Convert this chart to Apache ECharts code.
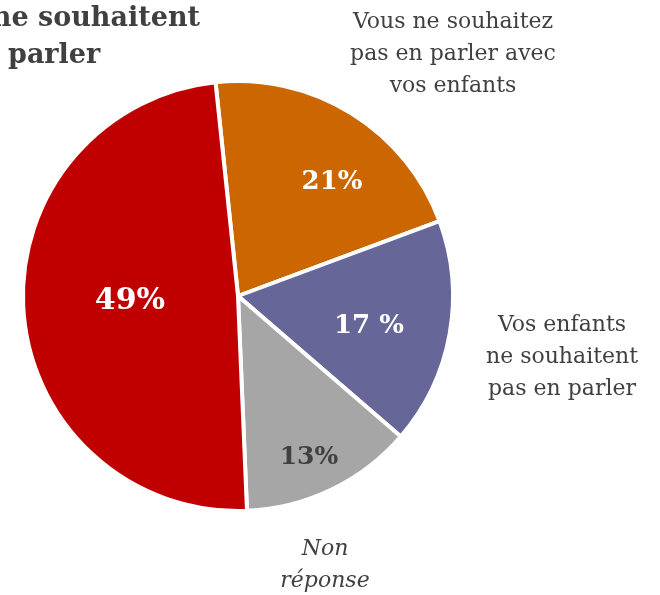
<!DOCTYPE html>
<html>
<head>
<meta charset="utf-8">
<script src="https://cdn.jsdelivr.net/npm/echarts@6/dist/echarts.min.js"></script>
<style>
  html, body { margin: 0; padding: 0; background: #fff; }
  #chart { width: 660px; height: 595px; }
</style>
</head>
<body>
<div id="chart"></div>
<script>
// data
var categories = [
  'Vous ne souhaitez\npas en parler avec\nvos enfants',
  'Vos enfants\nne souhaitent\npas en parler',
  'Non\nréponse',
  'ne souhaitent parler'
]
var values = [21, 17, 13, 49]
var pctLabels = ['21%', '17 %', '13%', '49%']
var colors = ['#CC6600', '#666699', '#A6A6A6', '#C00000']

// where the labels sit on the page
var pctPos = [[332, 182], [369, 326], [309, 457], [130, 301]]
var pctSize = [26, 26, 25, 30]
var namePos = [[453, 54], [562, 357], [325, 565], null]

var chart = echarts.init(document.getElementById('chart'))

var pieData = values.map(function (v, i) {
  return {
    name: categories[i], value: v,
    itemStyle: { color: colors[i] },
    label: { fontSize: pctSize[i], color: i === 2 ? '#404040' : '#fff' }
  }
})

chart.setOption({
  animation: false,
  backgroundColor: '#fff',
  graphic: [
    {
      type: 'text', right: 460, top: 5,
      style: { text: 'ne souhaitent', fill: '#404040', font: 'bold 27px "DejaVu Serif"' }
    },
    {
      type: 'text', left: 8, top: 42,
      style: { text: 'parler', fill: '#404040', font: 'bold 27px "DejaVu Serif"' }
    }
  ],
  series: [
    {
      type: 'pie',
      center: [238, 296],
      radius: 215,
      startAngle: 96,
      clockwise: true,
      data: pieData,
      itemStyle: { borderColor: '#fff', borderWidth: 4 },
      label: {
        show: true,
        position: 'inside',
        fontFamily: 'DejaVu Serif',
        fontWeight: 'bold',
        formatter: function (p) { return pctLabels[p.dataIndex] }
      },
      labelLayout: function (p) {
        var pos = pctPos[p.dataIndex]
        return { x: pos[0], y: pos[1], align: 'center', verticalAlign: 'middle' }
      },
      emphasis: { disabled: true }
    },
    {
      type: 'pie',
      center: [238, 296],
      radius: 215,
      startAngle: 96,
      clockwise: true,
      silent: true,
      data: values.map(function (v, i) {
        return {
          name: categories[i], value: v,
          itemStyle: { color: 'rgba(0,0,0,0)' },
          label: { show: namePos[i] != null, fontStyle: i === 2 ? 'italic' : 'normal' }
        }
      }),
      label: {
        position: 'outside',
        fontFamily: 'DejaVu Serif',
        fontSize: 22,
        lineHeight: 32,
        align: 'center',
        color: '#404040',
        overflow: 'none',
        width: 260,
        formatter: '{b}'
      },
      labelLine: { show: false },
      labelLayout: function (p) {
        var pos = namePos[p.dataIndex]
        if (!pos) return {}
        return { x: pos[0], y: pos[1], align: 'center', verticalAlign: 'middle' }
      }
    }
  ]
})
</script>
</body>
</html>
